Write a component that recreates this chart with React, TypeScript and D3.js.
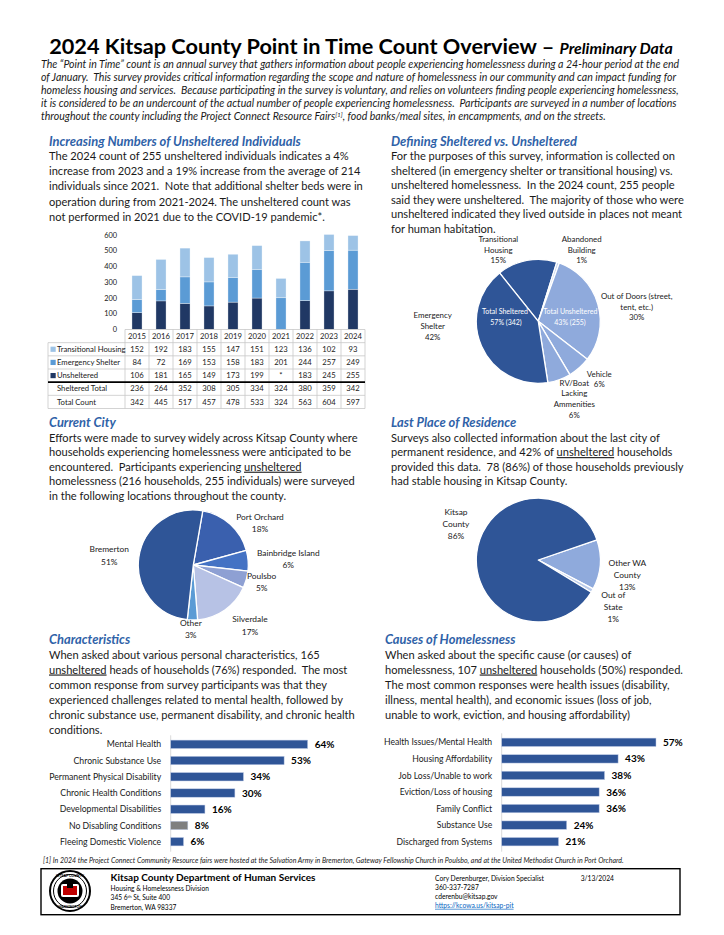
import React from 'react';
import * as d3 from 'd3';

// ---------------- DATA ----------------
const years = ['2015', '2016', '2017', '2018', '2019', '2020', '2021', '2022', '2023', '2024'];
const transitionalHousing = [152, 192, 183, 155, 147, 151, 123, 136, 102, 93];
const emergencyShelter = [84, 72, 169, 153, 158, 183, 201, 244, 257, 249];
const unshelteredCount: (number | null)[] = [106, 181, 165, 149, 173, 199, null, 183, 245, 255];
const shelteredTotal = [236, 264, 352, 308, 305, 334, 324, 380, 359, 342];
const totalCount = [342, 445, 517, 457, 478, 533, 324, 563, 604, 597];
const countTicks = [0, 100, 200, 300, 400, 500, 600];

const shelterCategories = ['Transitional Housing', 'Abandoned Building', 'Out of Doors', 'Vehicle', 'RV/Boat Lacking Ammenities', 'Emergency Shelter'];
const shelterValues = [93, 4, 179, 36, 36, 249];
const shelterPct = ['15%', '1%', '30%', '6%', '6%', '42%'];
const shelterGroup = ['sheltered', 'unsheltered', 'unsheltered', 'unsheltered', 'unsheltered', 'sheltered'];

const cityNames = ['Port Orchard', 'Bainbridge Island', 'Poulsbo', 'Silverdale', 'Other', 'Bremerton'];
const cityShares = [18, 6, 5, 17, 3, 51];

const residenceNames = ['Other WA County', 'Out of State', 'Kitsap County'];
const residenceShares = [13, 1, 86];

const characteristicNames = ['Mental Health', 'Chronic Substance Use', 'Permanent Physical Disability', 'Chronic Health Conditions', 'Developmental Disabilities', 'No Disabling Conditions', 'Fleeing Domestic Violence'];
const characteristicShares = [64, 53, 34, 30, 16, 8, 6];

const causeNames = ['Health Issues/Mental Health', 'Housing Affordability', 'Job Loss/Unable to work', 'Eviction/Loss of housing', 'Family Conflict', 'Substance Use', 'Discharged from Systems'];
const causeShares = [57, 43, 38, 36, 36, 24, 21];

// ---------------- STYLE ----------------
const FONT = "Lato, 'Open Sans', sans-serif";
const HEAD = '#2F62A8';
const INK = '#1a1a1a';
const C_TH = '#9DC3E6';
const C_ES = '#5B9BD5';
const C_UN = '#203864';
const DARK = '#2F5597';
const LIGHT = '#8FAADC';
const BODY = 11.1;
const LH = 14.5;

type Seg = string | { t: string; u?: boolean; sup?: boolean };

function Lines({ x, y, lines, size = BODY, lh = LH, italic = false, fill = INK, anchor = 'start', weight = 400 }:
  { x: number; y: number; lines: Seg[][]; size?: number; lh?: number; italic?: boolean; fill?: string; anchor?: string; weight?: number }) {
  return (
    <text x={x} y={y} fontSize={size} fontStyle={italic ? 'italic' : 'normal'} fill={fill} fontWeight={weight}
      textAnchor={anchor as any} style={{ whiteSpace: 'pre' }}>
      {lines.map((line, i) => (
        <tspan key={i} x={x} y={y + i * lh}>
          {line.map((s, j) =>
            typeof s === 'string' ? (
              <tspan key={j}>{s}</tspan>
            ) : s.sup ? (
              <tspan key={j} fontSize={size * 0.62} baselineShift="super">{s.t}</tspan>
            ) : (
              <tspan key={j} style={{ textDecoration: s.u ? 'underline' : 'none' }}>{s.t}</tspan>
            )
          )}
        </tspan>
      ))}
    </text>
  );
}

function Heading({ x, y, text }: { x: number; y: number; text: string }) {
  return (
    <text x={x} y={y} fontSize={12.9} fontStyle="italic" fontWeight={700} fill={HEAD}>{text}</text>
  );
}

// ---------- stacked bar + table ----------
function CountChart() {
  const col = d3.scaleBand().domain(years).range([125, 365]);
  const y = d3.scaleLinear().domain([0, 600]).range([329.3, 235.1]);
  const rows = years.map((yr, i) => ({
    year: yr,
    unsheltered: unshelteredCount[i] ?? 0,
    emergency: emergencyShelter[i],
    transitional: transitionalHousing[i],
  }));
  const keys = ['unsheltered', 'emergency', 'transitional'];
  const colors: Record<string, string> = { unsheltered: C_UN, emergency: C_ES, transitional: C_TH };
  const series = d3.stack<any>().keys(keys)(rows as any);
  const bw = col.bandwidth() * 0.42;

  const rowKeys = ['hdr', 'th', 'es', 'un', 'st', 'tc'];
  const r = d3.scaleBand().domain(rowKeys).range([329.5, 408.5]);
  const rh = r.bandwidth();
  const tableLeft = 48;
  const tableRight = 365;
  const rowLabels: Record<string, string> = {
    th: 'Transitional Housing', es: 'Emergency Shelter', un: 'Unsheltered', st: 'Sheltered Total', tc: 'Total Count',
  };
  const rowColor: Record<string, string> = { th: C_TH, es: C_ES, un: C_UN };
  const rowVals: Record<string, (number | null)[]> = {
    th: transitionalHousing, es: emergencyShelter, un: unshelteredCount, st: shelteredTotal, tc: totalCount,
  };

  return (
    <g>
      {countTicks.map((t) => (
        <text key={t} x={117} y={y(t) + 2.6} fontSize={7.4} textAnchor="end" fill={INK}>{t}</text>
      ))}
      {series.map((s) => (
        <g key={s.key} fill={colors[s.key]}>
          {s.map((d: any, i: number) => (
            d[1] - d[0] > 0 ? (
              <rect key={i} x={(col(years[i]) as number) + (col.bandwidth() - bw) / 2} y={y(d[1])}
                width={bw} height={y(d[0]) - y(d[1])} stroke="#ffffff" strokeOpacity={0.55} strokeWidth={0.6} />
            ) : null
          ))}
        </g>
      ))}
      <g stroke="#C8C8C8" strokeWidth={0.8} fill="none">
        <line x1={125} x2={tableRight} y1={r('hdr')!} y2={r('hdr')!} />
        {rowKeys.slice(1).map((k) => (
          k === 'st' ? null : <line key={k} x1={tableLeft} x2={tableRight} y1={r(k)!} y2={r(k)!} />
        ))}
        <line x1={tableLeft} x2={tableRight} y1={r('tc')! + rh} y2={r('tc')! + rh} />
        <line x1={tableLeft} x2={tableLeft} y1={r('th')!} y2={r('tc')! + rh} />
        {years.map((yr) => (
          <line key={yr} x1={col(yr)!} x2={col(yr)!} y1={r('hdr')!} y2={r('tc')! + rh} />
        ))}
        <line x1={tableRight} x2={tableRight} y1={r('hdr')!} y2={r('tc')! + rh} />
      </g>
      <line x1={tableLeft} x2={tableRight} y1={r('st')!} y2={r('st')!} stroke="#000" strokeWidth={1.8} />
      {years.map((yr) => (
        <text key={yr} x={col(yr)! + col.bandwidth() / 2} y={r('hdr')! + rh / 2 + 2.7} fontSize={7.7}
          textAnchor="middle" fill={INK}>{yr}</text>
      ))}
      {rowKeys.slice(1).map((k) => (
        <g key={k}>
          {rowColor[k] ? (
            <rect x={50.5} y={r(k)! + rh / 2 - 2.6} width={5.2} height={5.2} fill={rowColor[k]} />
          ) : null}
          <text x={57} y={r(k)! + rh / 2 + 2.7} fontSize={7.7} fill={INK}>{rowLabels[k]}</text>
          {rowVals[k].map((v, i) => (
            <text key={i} x={col(years[i])! + col.bandwidth() / 2} y={r(k)! + rh / 2 + 2.7} fontSize={7.7}
              textAnchor="middle" fill={INK}>{v === null ? '*' : v}</text>
          ))}
        </g>
      ))}
    </g>
  );
}

// ---------- generic pie ----------
type PieLabel = { lines: string[]; dx: number; dy: number };

function Pie({ cx, cy, radius, values, colors, start, labels, fontSize, lh }:
  { cx: number; cy: number; radius: number; values: number[]; colors: string[]; start: number; labels: PieLabel[]; fontSize: number; lh: number }) {
  const a0 = (start * Math.PI) / 180;
  const pie = d3.pie<number>().sort(null).startAngle(a0).endAngle(a0 + 2 * Math.PI);
  const arc = d3.arc<d3.PieArcDatum<number>>().innerRadius(0).outerRadius(radius);
  const arcs = pie(values);
  return (
    <g>
      <g transform={`translate(${cx},${cy})`}>
        {arcs.map((a, i) => (
          <path key={i} d={arc(a) || ''} fill={colors[i]} stroke="#fff" strokeWidth={1.3} strokeLinejoin="round" />
        ))}
      </g>
      {labels.map((l, i) => (
        <text key={i} fontSize={fontSize} fill={INK} textAnchor="middle">
          {l.lines.map((ln, j) => (
            <tspan key={j} x={cx + l.dx} y={cy + l.dy + j * lh + fontSize * 0.35}>{ln}</tspan>
          ))}
        </text>
      ))}
    </g>
  );
}

// ---------- horizontal bars ----------
function HBars({ axisX, names, values, colors, top, bottom, pxPerPct, labelSize }:
  { axisX: number; names: string[]; values: number[]; colors: string[]; top: number; bottom: number; pxPerPct: number; labelSize: number }) {
  const x = d3.scaleLinear().domain([0, 100]).range([axisX, axisX + 100 * pxPerPct]);
  const y = d3.scalePoint<string>().domain(names).range([top, bottom]);
  const bh = 8.4;
  return (
    <g>
      <line x1={axisX} x2={axisX} y1={top - 9} y2={bottom + 10} stroke="#D0D0D0" strokeWidth={0.8} />
      {names.map((n, i) => (
        <g key={n}>
          <text x={axisX - 9.5} y={y(n)! + 3.1} fontSize={labelSize} textAnchor="end" fill={INK}>{n}</text>
          <rect x={x(0)} y={y(n)! - bh / 2} width={x(values[i]) - x(0)} height={bh} fill={colors[i]}
            stroke="#BFCBE6" strokeWidth={0.5} />
          <text x={x(values[i]) + 7} y={y(n)! + 3.6} fontSize={10} fontWeight={700} fill="#000">{values[i]}%</text>
        </g>
      ))}
    </g>
  );
}

export default function App() {
  const shelterColors = shelterGroup.map((g, i) => (g === 'sheltered' ? DARK : i === 1 ? '#C9D6EE' : LIGHT));
  const shelterLabels: PieLabel[] = [
    { lines: ['Transitional', 'Housing', shelterPct[0]], dx: -40, dy: -82 },
    { lines: ['Abandoned', 'Building', shelterPct[1]], dx: 43.4, dy: -82 },
    { lines: ['Out of Doors (street,', 'tent, etc.)', shelterPct[2]], dx: 98.4, dy: -25 },
    { lines: ['Vehicle', shelterPct[3]], dx: 61, dy: 52.7 },
    { lines: ['RV/Boat', 'Lacking', 'Ammenities', shelterPct[4]], dx: 36, dy: 61.7 },
    { lines: ['Emergency', 'Shelter', shelterPct[5]], dx: -105.6, dy: -5.6 },
  ];
  const shelteredSum = d3.sum(shelterValues.filter((_, i) => shelterGroup[i] === 'sheltered'));
  const unshelteredSum = d3.sum(shelterValues.filter((_, i) => shelterGroup[i] === 'unsheltered'));
  const shelterTotal = shelteredSum + unshelteredSum;

  const cityColors = ['#3A60AE', '#4472C4', '#8EA0D3', '#B7C2E5', '#5B9BD5', DARK];
  const cityLabels: PieLabel[] = [
    { lines: ['Port Orchard', `${cityShares[0]}%`], dx: 66.7, dy: -48.3 },
    { lines: ['Bainbridge Island', `${cityShares[1]}%`], dx: 95, dy: -12.3 },
    { lines: ['Poulsbo', `${cityShares[2]}%`], dx: 68.4, dy: 11 },
    { lines: ['Silverdale', `${cityShares[3]}%`], dx: 56.7, dy: 54.3 },
    { lines: ['Other', `${cityShares[4]}%`], dx: -2.5, dy: 57.7 },
    { lines: ['Bremerton', `${cityShares[5]}%`], dx: -84, dy: -15.7 },
  ];

  const resColors = [LIGHT, '#BCCCEA', DARK];
  const resLabels: PieLabel[] = [
    { lines: ['Other WA', 'County', `${residenceShares[0]}%`], dx: 89, dy: 3.3 },
    { lines: ['Out of', 'State', `${residenceShares[1]}%`], dx: 75, dy: 35 },
    { lines: ['Kitsap', 'County', `${residenceShares[2]}%`], dx: -82.3, dy: -47.7 },
  ];

  const charColors = characteristicNames.map((n) => (n === 'No Disabling Conditions' ? '#7F7F7F' : DARK));
  const causeColors = causeNames.map(() => DARK);

  return (
    <svg width={724} height={935} viewBox="0 0 724 935"
      style={{ position: 'absolute', left: 0, top: 0, background: '#fff' }} fontFamily={FONT}>
      <rect x={0} y={0} width={724} height={935} fill="#fff" />
      {/* Title */}
      <text x={361} y={54} textAnchor="middle" fontSize={21.7} fontWeight={700} fill="#000">
        2024 Kitsap County Point in Time Count Overview –{' '}
        <tspan fontStyle="italic" fontSize={15.9}>Preliminary Data</tspan>
      </text>
      <Lines x={41} y={68} size={10.55} lh={13} italic lines={[
        ['The “Point in Time” count is an annual survey that gathers information about people experiencing homelessness during a 24-hour period at the end'],
        ['of January.  This survey provides critical information regarding the scope and nature of homelessness in our community and can impact funding for'],
        ['homeless housing and services.  Because participating in the survey is voluntary, and relies on volunteers finding people experiencing homelessness,'],
        ['it is considered to be an undercount of the actual number of people experiencing homelessness.  Participants are surveyed in a number of locations'],
        ['throughout the county including the Project Connect Resource Fairs', { t: '[1]', sup: true }, ', food banks/meal sites, in encampments, and on the streets.'],
      ]} />

      {/* Section: Increasing numbers */}
      <Heading x={49} y={145.5} text="Increasing Numbers of Unsheltered Individuals" />
      <Lines x={49} y={160} lh={15.2} lines={[
        ['The 2024 count of 255 unsheltered individuals indicates a 4%'],
        ['increase from 2023 and a 19% increase from the average of 214'],
        ['individuals since 2021.  Note that additional shelter beds were in'],
        ['operation during from 2021-2024. The unsheltered count was'],
        ['not performed in 2021 due to the COVID-19 pandemic*.'],
      ]} />
      <CountChart />

      {/* Section: Defining sheltered */}
      <Heading x={391} y={145.5} text="Defining Sheltered vs. Unsheltered" />
      <Lines x={391} y={160} lines={[
        ['For the purposes of this survey, information is collected on'],
        ['sheltered (in emergency shelter or transitional housing) vs.'],
        ['unsheltered homelessness.  In the 2024 count, 255 people'],
        ['said they were unsheltered.  The majority of those who were'],
        ['unsheltered indicated they lived outside in places not meant'],
        ['for human habitation.'],
      ]} />
      <Pie cx={538.3} cy={321.3} radius={62} values={shelterValues} colors={shelterColors} start={-38.7}
        labels={shelterLabels} fontSize={7.9} lh={10.7} />
      <text fontSize={7} fill="#fff" textAnchor="middle">
        <tspan x={505} y={313.8}>Total Sheltered</tspan>
        <tspan x={506} y={324.5}>{`${Math.round((shelteredSum / shelterTotal) * 100)}% (${shelteredSum})`}</tspan>
        <tspan x={570.3} y={313.8}>Total Unsheltered</tspan>
        <tspan x={570} y={324.5}>{`${Math.round((unshelteredSum / shelterTotal) * 100)}% (${unshelteredSum})`}</tspan>
      </text>

      {/* Section: Current city */}
      <Heading x={49} y={426.5} text="Current City" />
      <Lines x={49} y={441.5} lh={14.6} lines={[
        ['Efforts were made to survey widely across Kitsap County where'],
        ['households experiencing homelessness were anticipated to be'],
        ['encountered.  Participants experiencing ', { t: 'unsheltered', u: true }],
        ['homelessness (216 households, 255 individuals) were surveyed'],
        ['in the following locations throughout the county.'],
      ]} />
      <Pie cx={193.3} cy={565} radius={55} values={cityShares} colors={cityColors} start={9.9}
        labels={cityLabels} fontSize={8.4} lh={12.3} />

      {/* Section: Last place */}
      <Heading x={391} y={426.5} text="Last Place of Residence" />
      <Lines x={391} y={441.5} lh={14.6} lines={[
        ['Surveys also collected information about the last city of'],
        ['permanent residence, and 42% of ', { t: 'unsheltered', u: true }, ' households'],
        ['provided this data.  78 (86%) of those households previously'],
        ['had stable housing in Kitsap County.'],
      ]} />
      <Pie cx={538.3} cy={560} radius={62} values={residenceShares} colors={resColors} start={71}
        labels={resLabels} fontSize={8.4} lh={12} />

      {/* Section: Characteristics */}
      <Heading x={49} y={643.5} text="Characteristics" />
      <Lines x={49} y={658.5} lh={15} lines={[
        ['When asked about various personal characteristics, 165'],
        [{ t: 'unsheltered', u: true }, ' heads of households (76%) responded.  The most'],
        ['common response from survey participants was that they'],
        ['experienced challenges related to mental health, followed by'],
        ['chronic substance use, permanent disability, and chronic health'],
        ['conditions.'],
      ]} />
      <HBars axisX={170.7} names={characteristicNames} values={characteristicShares} colors={charColors}
        top={744.3} bottom={841.7} pxPerPct={2.14} labelSize={8.7} />

      {/* Section: Causes */}
      <Heading x={385} y={643.5} text="Causes of Homelessness" />
      <Lines x={385} y={658.5} lh={15} lines={[
        ['When asked about the specific cause (or causes) of'],
        ['homelessness, 107 ', { t: 'unsheltered', u: true }, ' households (50%) responded.'],
        ['The most common responses were health issues (disability,'],
        ['illness, mental health), and economic issues (loss of job,'],
        ['unable to work, eviction, and housing affordability)'],
      ]} />
      <HBars axisX={501.7} names={causeNames} values={causeShares} colors={causeColors}
        top={742.3} bottom={841.7} pxPerPct={2.707} labelSize={8.65} />

      {/* Footnote */}
      <text x={43} y={862.5} fontSize={7} fontStyle="italic" fill={INK}>
        [1] In 2024 the Project Connect Community Resource fairs were hosted at the Salvation Army in Bremerton, Gateway Fellowship Church in Poulsbo, and at the United Methodist Church in Port Orchard.
      </text>

      {/* Footer box */}
      <rect x={41} y={868.7} width={639} height={46} fill="none" stroke="#000" strokeWidth={1.4} />
      <g transform="translate(70,891)">
        <circle r={20} fill="#fff" stroke="#000" strokeWidth={2} />
        <circle r={16.5} fill="none" stroke="#000" strokeWidth={1} />
        <circle r={12.5} fill="#000" />
        <rect x={-9} y={-7} width={18} height={13} rx={2} fill="#fff" />
        <rect x={-7} y={-5} width={14} height={9} fill="#C00000" />
        <rect x={-3} y={-7} width={6} height={4} fill="#000" />
        <text y={-13.6} fontSize={3.6} textAnchor="middle" fill="#000" fontWeight={700}>KITSAP COUNTY</text>
        <text y={17} fontSize={3.4} textAnchor="middle" fill="#000" fontWeight={700}>WASHINGTON</text>
      </g>
      <text x={110.6} y={881} fontSize={10} fontWeight={700} fill="#000">Kitsap County Department of Human Services</text>
      <text fontSize={6.6} fill="#000">
        <tspan x={110.6} y={891.3}>Housing &amp; Homelessness Division</tspan>
        <tspan x={110.6} y={900.3}>345 6<tspan fontSize={4.3} baselineShift="super">th</tspan> St, Suite 400</tspan>
        <tspan x={110.6} y={909.8}>Bremerton, WA 98337</tspan>
      </text>
      <text fontSize={6.7} fill="#000">
        <tspan x={435} y={880.5}>Cory Derenburger, Division Specialist</tspan>
        <tspan x={435} y={889.8}>360-337-7287</tspan>
        <tspan x={435} y={899.3}>cderenbu@kitsap.gov</tspan>
      </text>
      <text x={435} y={907.8} fontSize={6.7} fill="#0563C1" style={{ textDecoration: 'underline' }}>https://kcowa.us/kitsap-pit</text>
      <text x={580.7} y={880.5} fontSize={6.7} fill="#000">3/13/2024</text>
    </svg>
  );
}
